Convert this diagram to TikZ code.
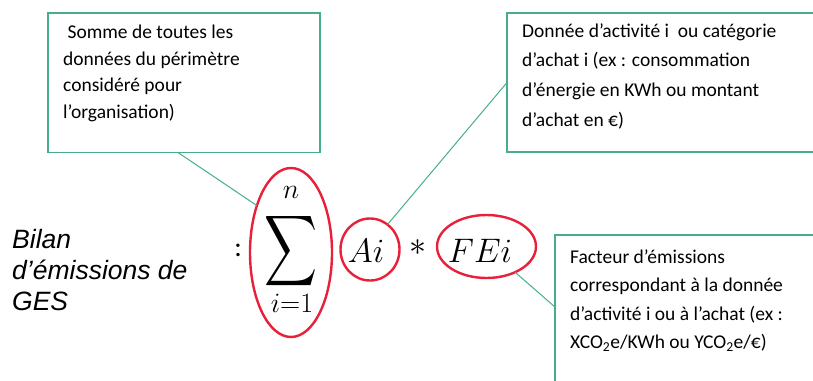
\RequirePackage{fix-cm}
\documentclass[tikz,border=0pt]{standalone}
\usepackage[no-math]{fontspec}
\setmainfont{Carlito}
\newfontfamily\arialfam{Liberation Sans}
\usepackage{graphicx}
\usetikzlibrary{shapes.geometric}
\definecolor{boxgreen}{RGB}{70,175,135}
\definecolor{ovalred}{RGB}{232,32,58}
\tikzset{
  boxst/.style={draw=boxgreen, line width=1.4pt, fill=white, rectangle, inner sep=0pt, outer sep=0pt},
  txtst/.style={align=left, inner sep=0pt, anchor=north west, text=black},
  ovalst/.style={ellipse, draw=ovalred, line width=2.4pt, inner sep=0pt, outer sep=0pt},
  conn/.style={draw=boxgreen, line width=1pt},
  mathst/.style={inner sep=0pt, text=black}
}
\begin{document}
\begin{tikzpicture}[x=1pt, y=-1pt]
\useasboundingbox (0,0) rectangle (813,380);
\fill[white] (0,0) rectangle (813,380);
\clip (0,0) rectangle (813,380);

% boxes
\node[boxst, minimum width=272pt, minimum height=139.5pt, anchor=north west] (box1) at (48,13) {};
\node[boxst, minimum width=340pt, minimum height=139pt, anchor=north west] (box2) at (507,13) {};
\node[boxst, minimum width=300pt, minimum height=165pt, anchor=north west] (box3) at (555,235) {};

% box texts
\node[txtst, font=\fontsize{19.5}{26.7}\selectfont] (t1) at (63,24.7)
  {\ Somme de toutes les\\données du périmètre\\considéré pour\\l’organisation)};
\node[txtst, font=\fontsize{19.5}{29.7}\selectfont] (t2) at (522,23.2)
  {Donnée d’activité i \ ou catégorie\\d’achat i (ex : consommation\\d’énergie en KWh ou montant\\d’achat en €)};
\node[txtst, font=\fontsize{19.5}{28.5}\selectfont] (t3) at (570,249.2)
  {Facteur d’émissions\\correspondant à la donnée\\d’activité i ou à l’achat (ex :\\XCO\textsubscript{2}e/KWh ou YCO\textsubscript{2}e/€)};

% left label
\node[txtst, font=\arialfam\itshape\fontsize{26.5}{31}\selectfont] (bilan) at (12,229)
  {Bilan\\d’émissions de\\GES};

% formula
\node[mathst, font=\fontsize{28}{28}\selectfont] (colon) at (238,250) {:};
\node[mathst] (sigma) at (291.5,251) {\resizebox*{53pt}{79pt}{$\displaystyle\sum$}};
\node[mathst, font=\fontsize{28}{28}\selectfont] (nsup) at (291,192) {$n$};
\node[mathst, font=\fontsize{28}{28}\selectfont] (isub) at (292,303) {$i{=}1$};
\node[mathst, anchor=base, font=\fontsize{34}{34}\selectfont] (ai) at (366,262) {$Ai$};
\node[mathst, font=\fontsize{34}{34}\selectfont] (star) at (418,248) {$*$};
\node[mathst, anchor=base, font=\fontsize{34}{34}\selectfont] (fei) at (480,262) {$FEi$};

% ovals
\node[ovalst, minimum width=82pt, minimum height=169pt] (sumE) at (291,252.5) {};
\node[ovalst, minimum width=59pt, minimum height=62pt] (aiE) at (370,249.5) {};
\node[ovalst, minimum width=99pt, minimum height=63pt] (feE) at (486.5,246.5) {};

% connectors
\draw[conn] ([xshift=-6pt]box1.south) -- (sumE.126);
\draw[conn] (box2.west) -- (aiE.55);
\draw[conn] ([yshift=10.5pt]box3.west) -- (feE.-42);
\end{tikzpicture}
\end{document}
